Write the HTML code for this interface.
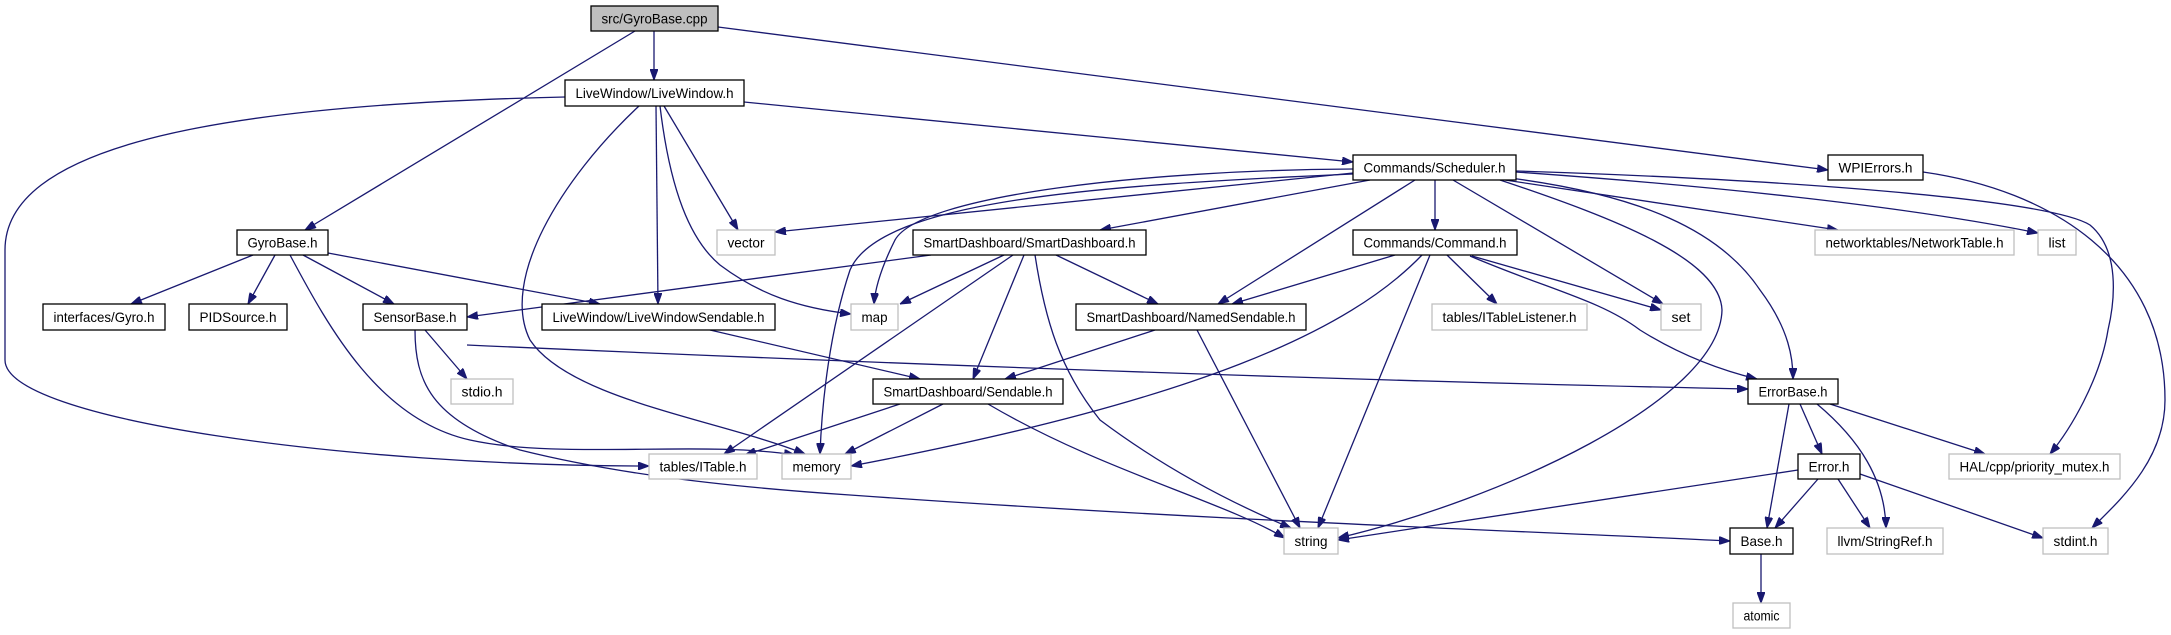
<!DOCTYPE html>
<html><head><meta charset="utf-8"><style>
html,body{margin:0;padding:0;background:#fff;}
svg{display:block;}
text{font-family:"Liberation Sans",sans-serif;font-size:14px;fill:#000;}
.e{fill:none;stroke:#191970;stroke-width:1.3;marker-end:url(#a);}
.n{fill:#fff;stroke:#000;stroke-width:1.3;}
.g{fill:#fff;stroke:#bfbfbf;stroke-width:1.3;}
</style></head><body>
<svg width="2171" height="635" viewBox="0 0 2171 635" xmlns="http://www.w3.org/2000/svg">
<defs><marker id="a" markerUnits="userSpaceOnUse" markerWidth="11" markerHeight="8" refX="11" refY="4" orient="auto"><path d="M0,0 L11,4 L0,8 z" fill="#191970" stroke="#191970"/></marker></defs>
<g>
<path class="e" d="M635 31 L305 230"/>
<path class="e" d="M654 31 L654 80"/>
<path class="e" d="M718 27 L1828 170"/>
<path class="e" d="M565 97 C200 105, 5 150, 5 250 L5 360 C5 420, 350 466, 649 466"/>
<path class="e" d="M639 106 C560 180, 500 280, 530 340 C570 400, 720 420, 805 454"/>
<path class="e" d="M656 106 L658 304"/>
<path class="e" d="M660 106 C670 190, 690 240, 720 265 C760 295, 800 308, 851 314"/>
<path class="e" d="M664 106 L738 230"/>
<path class="e" d="M744 102 L1353 162"/>
<path class="e" d="M1353 173 L775 232"/>
<path class="e" d="M1353 169 C1150 170, 920 195, 895 240 C880 270, 875 290, 874 304"/>
<path class="e" d="M1353 174 C1100 185, 880 200, 850 270 C830 330, 822 400, 820 454"/>
<path class="e" d="M1370 180 L1100 230"/>
<path class="e" d="M1415 180 L1218 304"/>
<path class="e" d="M1435 180 L1435 230"/>
<path class="e" d="M1453 180 L1663 304"/>
<path class="e" d="M1500 180 C1620 220, 1720 260, 1722 310 C1720 400, 1500 500, 1338 538"/>
<path class="e" d="M1510 178 C1640 195, 1720 230, 1760 290 C1790 330, 1793 360, 1793 379"/>
<path class="e" d="M1505 180 L1838 230"/>
<path class="e" d="M1516 172 C1700 185, 1900 205, 2038 233"/>
<path class="e" d="M1516 171 C1800 180, 2050 200, 2090 225 C2120 250, 2115 300, 2108 330 C2100 380, 2070 430, 2050 454"/>
<path class="e" d="M1923 172 C2050 190, 2165 260, 2165 400 C2165 460, 2120 500, 2092 528"/>
<path class="e" d="M253 255 L131 304"/>
<path class="e" d="M275 255 L248 304"/>
<path class="e" d="M303 255 L394 304"/>
<path class="e" d="M290 255 C330 330, 380 420, 470 440 C560 460, 700 440, 795 455"/>
<path class="e" d="M328 253 L600 304"/>
<path class="e" d="M425 330 L467 379"/>
<path class="e" d="M467 345 C800 360, 1300 380, 1748 389"/>
<path class="e" d="M415 330 C415 380, 430 420, 520 450 C600 470, 700 485, 850 495 C1200 520, 1500 530, 1730 541"/>
<path class="e" d="M710 330 L920 379"/>
<path class="e" d="M931 255 L467 317"/>
<path class="e" d="M1004 255 L900 304"/>
<path class="e" d="M1013 255 L724 454"/>
<path class="e" d="M1024 255 L973 379"/>
<path class="e" d="M1035 255 C1045 320, 1060 370, 1100 420 C1180 480, 1260 515, 1291 528"/>
<path class="e" d="M1056 255 L1158 304"/>
<path class="e" d="M1395 255 L1232 304"/>
<path class="e" d="M1422 255 C1350 330, 1200 400, 851 466"/>
<path class="e" d="M1430 255 L1318 528"/>
<path class="e" d="M1447 255 L1497 304"/>
<path class="e" d="M1472 256 L1661 310"/>
<path class="e" d="M1470 256 C1550 290, 1600 300, 1640 330 C1680 355, 1720 370, 1757 379"/>
<path class="e" d="M1155 330 L1005 379"/>
<path class="e" d="M1197 330 L1300 528"/>
<path class="e" d="M900 404 L745 455"/>
<path class="e" d="M943 404 L845 454"/>
<path class="e" d="M988 404 C1100 470, 1220 500, 1285 538"/>
<path class="e" d="M1789 404 L1767 528"/>
<path class="e" d="M1800 404 L1822 454"/>
<path class="e" d="M1817 404 C1860 440, 1885 480, 1886 528"/>
<path class="e" d="M1830 404 L1985 454"/>
<path class="e" d="M1798 470 L1338 540"/>
<path class="e" d="M1818 479 L1775 528"/>
<path class="e" d="M1838 479 L1870 528"/>
<path class="e" d="M1860 474 L2043 538"/>
<path class="e" d="M1761 554 L1761 603"/>
</g>
<g text-anchor="middle">
<rect x="591" y="6" width="127" height="25" fill="#bfbfbf" stroke="#000" stroke-width="1.3"/><text x="654.5" y="23.5" textLength="106" lengthAdjust="spacingAndGlyphs">src/GyroBase.cpp</text>
<rect class="n" x="565" y="80" width="179" height="26"/><text x="654.5" y="98" textLength="158" lengthAdjust="spacingAndGlyphs">LiveWindow/LiveWindow.h</text>
<rect class="n" x="1353" y="155" width="163" height="25"/><text x="1434.5" y="172.5" textLength="142" lengthAdjust="spacingAndGlyphs">Commands/Scheduler.h</text>
<rect class="n" x="1828" y="155" width="95" height="25"/><text x="1875.5" y="172.5" textLength="74" lengthAdjust="spacingAndGlyphs">WPIErrors.h</text>
<rect class="n" x="237" y="230" width="91" height="25"/><text x="282.5" y="247.5" textLength="70" lengthAdjust="spacingAndGlyphs">GyroBase.h</text>
<rect class="g" x="717" y="230" width="58" height="25"/><text x="746" y="247.5" textLength="37" lengthAdjust="spacingAndGlyphs">vector</text>
<rect class="n" x="913" y="230" width="233" height="25"/><text x="1029.5" y="247.5" textLength="212" lengthAdjust="spacingAndGlyphs">SmartDashboard/SmartDashboard.h</text>
<rect class="n" x="1353" y="230" width="164" height="25"/><text x="1435" y="247.5" textLength="143" lengthAdjust="spacingAndGlyphs">Commands/Command.h</text>
<rect class="g" x="1815" y="230" width="199" height="25"/><text x="1914.5" y="247.5" textLength="178" lengthAdjust="spacingAndGlyphs">networktables/NetworkTable.h</text>
<rect class="g" x="2038" y="230" width="38" height="25"/><text x="2057" y="247.5" textLength="17" lengthAdjust="spacingAndGlyphs">list</text>
<rect class="n" x="43" y="304" width="122" height="26"/><text x="104" y="322" textLength="101" lengthAdjust="spacingAndGlyphs">interfaces/Gyro.h</text>
<rect class="n" x="189" y="304" width="98" height="26"/><text x="238" y="322" textLength="77" lengthAdjust="spacingAndGlyphs">PIDSource.h</text>
<rect class="n" x="363" y="304" width="104" height="26"/><text x="415" y="322" textLength="83" lengthAdjust="spacingAndGlyphs">SensorBase.h</text>
<rect class="n" x="542" y="304" width="233" height="26"/><text x="658.5" y="322" textLength="212" lengthAdjust="spacingAndGlyphs">LiveWindow/LiveWindowSendable.h</text>
<rect class="g" x="851" y="304" width="47" height="26"/><text x="874.5" y="322" textLength="26" lengthAdjust="spacingAndGlyphs">map</text>
<rect class="n" x="1076" y="304" width="230" height="26"/><text x="1191" y="322" textLength="209" lengthAdjust="spacingAndGlyphs">SmartDashboard/NamedSendable.h</text>
<rect class="g" x="1432" y="304" width="155" height="26"/><text x="1509.5" y="322" textLength="134" lengthAdjust="spacingAndGlyphs">tables/ITableListener.h</text>
<rect class="g" x="1661" y="304" width="40" height="26"/><text x="1681" y="322" textLength="19" lengthAdjust="spacingAndGlyphs">set</text>
<rect class="g" x="451" y="379" width="62" height="25"/><text x="482" y="396.5" textLength="41" lengthAdjust="spacingAndGlyphs">stdio.h</text>
<rect class="n" x="873" y="379" width="190" height="25"/><text x="968" y="396.5" textLength="169" lengthAdjust="spacingAndGlyphs">SmartDashboard/Sendable.h</text>
<rect class="n" x="1748" y="379" width="90" height="25"/><text x="1793" y="396.5" textLength="69" lengthAdjust="spacingAndGlyphs">ErrorBase.h</text>
<rect class="g" x="649" y="454" width="108" height="25"/><text x="703" y="471.5" textLength="87" lengthAdjust="spacingAndGlyphs">tables/ITable.h</text>
<rect class="g" x="782" y="454" width="69" height="25"/><text x="816.5" y="471.5" textLength="48" lengthAdjust="spacingAndGlyphs">memory</text>
<rect class="n" x="1798" y="454" width="62" height="25"/><text x="1829" y="471.5" textLength="41" lengthAdjust="spacingAndGlyphs">Error.h</text>
<rect class="g" x="1949" y="454" width="171" height="25"/><text x="2034.5" y="471.5" textLength="150" lengthAdjust="spacingAndGlyphs">HAL/cpp/priority_mutex.h</text>
<rect class="g" x="1284" y="528" width="54" height="26"/><text x="1311" y="546" textLength="33" lengthAdjust="spacingAndGlyphs">string</text>
<rect class="n" x="1730" y="528" width="63" height="26"/><text x="1761.5" y="546" textLength="42" lengthAdjust="spacingAndGlyphs">Base.h</text>
<rect class="g" x="1827" y="528" width="116" height="26"/><text x="1885" y="546" textLength="95" lengthAdjust="spacingAndGlyphs">llvm/StringRef.h</text>
<rect class="g" x="2043" y="528" width="65" height="26"/><text x="2075.5" y="546" textLength="44" lengthAdjust="spacingAndGlyphs">stdint.h</text>
<rect class="g" x="1733" y="603" width="57" height="25"/><text x="1761.5" y="620.5" textLength="36" lengthAdjust="spacingAndGlyphs">atomic</text>
</g>
</svg>
</body></html>
